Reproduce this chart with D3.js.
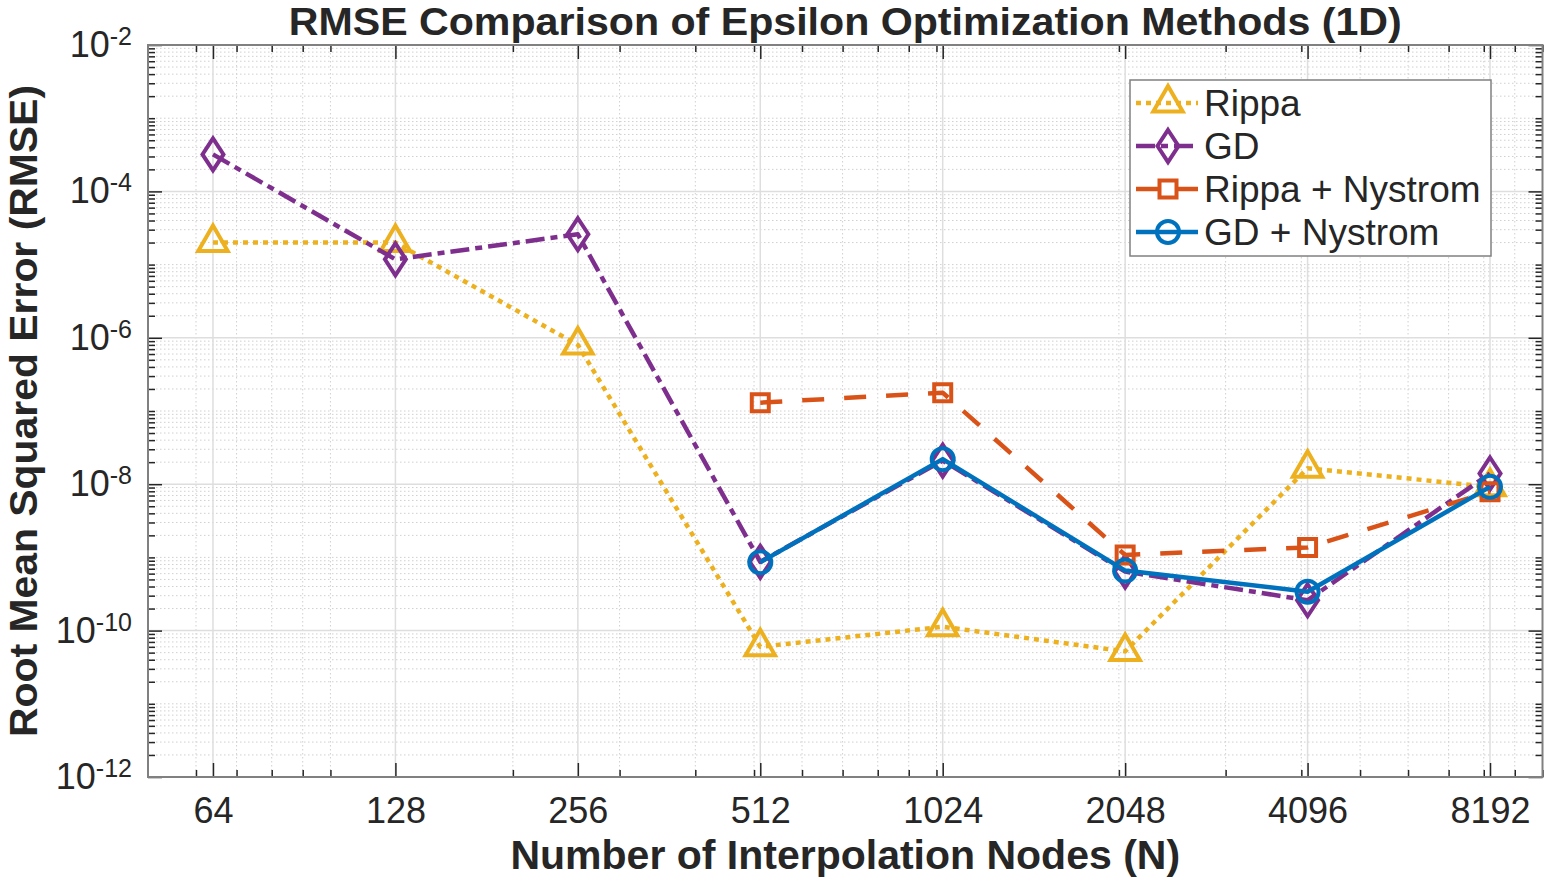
<!DOCTYPE html>
<html><head><meta charset="utf-8">
<script src="https://cdn.jsdelivr.net/npm/d3@7"></script>
<style>
html,body{margin:0;padding:0;background:#fff;}
svg{display:block;font-family:"Liberation Sans",Arial,Helvetica,sans-serif;}
</style></head>
<body>
<svg id="chart" width="1546" height="880"></svg>
<script>
// ---- data ----
const nodes = [64, 128, 256, 512, 1024, 2048, 4096, 8192];
const xTickLabels = ["64", "128", "256", "512", "1024", "2048", "4096", "8192"];
const rippa    = [2.0e-5, 2.0e-5, 8.0e-7, 6.0e-11, 1.13e-10, 5.2e-11, 1.65e-8, 9.2e-9];
const gd       = [3.2e-4, 1.18e-5, 2.6e-5, 8.7e-10, 2.1e-8, 6.4e-10, 2.6e-10, 1.4e-8];
const rippaNys = [null, null, null, 1.3e-7, 1.78e-7, 1.08e-9, 1.37e-9, 7.9e-9];
const gdNys    = [null, null, null, 8.6e-10, 2.2e-8, 6.6e-10, 3.4e-10, 9.2e-9];
const yMajorExp = [-12, -10, -8, -6, -4, -2];
const seriesNames = ["Rippa", "GD", "Rippa + Nystrom", "GD + Nystrom"];
const titleText = "RMSE Comparison of Epsilon Optimization Methods (1D)";
const xLabelText = "Number of Interpolation Nodes (N)";
const yLabelText = "Root Mean Squared Error (RMSE)";

// ---- layout ----
const L = 148, R = 1542.5, T = 45, B = 777;
const svg = d3.select("#chart");
const x = d3.scaleLog().base(2).domain([50, 10000]).range([L, R]);
const y = d3.scaleLog().domain([1e-12, 1e-2]).range([B, T]);

// minor values
const xMinor = [];
[10, 100, 1000].forEach(p => { for (let m = 1; m <= 9; m++) { const v = m * p; if (v > 50 && v < 10000) xMinor.push(v); } });
xMinor.push(10000);
const yMinor = [];
for (let k = -12; k < -2; k++) {
  for (let m = 1; m <= 9; m++) {
    if (m === 1 && k % 2 === 0) continue;
    yMinor.push(m * Math.pow(10, k));
  }
}
const yMajor = yMajorExp.map(e => Math.pow(10, e));

const g = svg.append("g");
// minor grid
g.selectAll(".xmg").data(xMinor).enter().append("line")
  .attr("x1", d => x(d)).attr("x2", d => x(d)).attr("y1", T).attr("y2", B)
  .attr("stroke", "#d0d0d0").attr("stroke-width", 1).attr("stroke-dasharray", "1.5,2.5");
g.selectAll(".ymg").data(yMinor).enter().append("line")
  .attr("x1", L).attr("x2", R).attr("y1", d => y(d)).attr("y2", d => y(d))
  .attr("stroke", "#d0d0d0").attr("stroke-width", 1).attr("stroke-dasharray", "1.5,2.5");
// major grid
g.selectAll(".xg").data(nodes).enter().append("line")
  .attr("x1", d => x(d)).attr("x2", d => x(d)).attr("y1", T).attr("y2", B)
  .attr("stroke", "#dedede").attr("stroke-width", 1.5);
g.selectAll(".yg").data(yMajor).enter().append("line")
  .attr("x1", L).attr("x2", R).attr("y1", d => y(d)).attr("y2", d => y(d))
  .attr("stroke", "#dedede").attr("stroke-width", 1.5);

// axes with d3 axis (ticks inward)
const tickCol = "#262626";
function styleAxis(sel) {
  sel.select(".domain").remove();
  sel.selectAll(".tick line").attr("stroke", tickCol).attr("stroke-width", 1.5);
}
const axB = d3.axisBottom(x).tickValues(nodes).tickSize(-14).tickFormat((d, i) => xTickLabels[i]).tickPadding(24);
const gB = svg.append("g").attr("transform", `translate(0,${B})`).call(axB);
styleAxis(gB);
gB.selectAll(".tick text").attr("font-size", 36).attr("fill", tickCol).attr("font-family", "Liberation Sans, Arial, sans-serif").attr("dy", "0.71em").attr("y", 20);
const gBm = svg.append("g").attr("transform", `translate(0,${B})`).call(d3.axisBottom(x).tickValues(xMinor).tickSize(-7).tickFormat(""));
styleAxis(gBm);
const gT = svg.append("g").attr("transform", `translate(0,${T})`).call(d3.axisTop(x).tickValues(nodes).tickSize(-14).tickFormat(""));
styleAxis(gT);
const gTm = svg.append("g").attr("transform", `translate(0,${T})`).call(d3.axisTop(x).tickValues(xMinor).tickSize(-7).tickFormat(""));
styleAxis(gTm);

const axL = d3.axisLeft(y).tickValues(yMajor).tickSize(-14).tickFormat("");
const gL = svg.append("g").attr("transform", `translate(${L},0)`).call(axL);
styleAxis(gL);
const gLm = svg.append("g").attr("transform", `translate(${L},0)`).call(d3.axisLeft(y).tickValues(yMinor).tickSize(-7).tickFormat(""));
styleAxis(gLm);
const gR = svg.append("g").attr("transform", `translate(${R},0)`).call(d3.axisRight(y).tickValues(yMajor).tickSize(-14).tickFormat(""));
styleAxis(gR);
const gRm = svg.append("g").attr("transform", `translate(${R},0)`).call(d3.axisRight(y).tickValues(yMinor).tickSize(-7).tickFormat(""));
styleAxis(gRm);

// y tick labels with superscripts
yMajorExp.forEach(e => {
  const t = svg.append("text").attr("x", 132).attr("y", y(Math.pow(10, e)) + 12)
    .attr("text-anchor", "end").attr("fill", tickCol).attr("font-size", 36);
  t.append("tspan").text("10");
  t.append("tspan").attr("dy", -12).attr("font-size", 25).text(String(e));
});

// box
svg.append("rect").attr("x", L).attr("y", T).attr("width", R - L).attr("height", B - T)
  .attr("fill", "none").attr("stroke", "#808080").attr("stroke-width", 2);

// ---- series ----
const styles = [
  {data: rippa, color: "#EDB120", dash: "5,5", marker: "tri"},
  {data: gd, color: "#7E2F8E", dash: "19,6,7,6", marker: "dia"},
  {data: rippaNys, color: "#D95319", dash: "22,20", marker: "sq"},
  {data: gdNys, color: "#0072BD", dash: null, marker: "circ"}
];
function markerPath(type) {
  if (type === "tri") { const r = 17; return `M0,${-r}L${0.866*r},${0.5*r}L${-0.866*r},${0.5*r}Z`; }
  if (type === "dia") { return "M0,-16L10.5,0L0,16L-10.5,0Z"; }
  if (type === "sq") { return "M-8.5,-8.5H8.5V8.5H-8.5Z"; }
  return d3.arc()({innerRadius: 0, outerRadius: 11, startAngle: 0, endAngle: 2 * Math.PI});
}
const line = d3.line().defined(d => d.v != null).x(d => x(d.n)).y(d => y(d.v));
styles.forEach(s => {
  const pts = nodes.map((n, i) => ({n, v: s.data[i]}));
  const p = svg.append("path").datum(pts).attr("d", line).attr("fill", "none")
    .attr("stroke", s.color).attr("stroke-width", 4.5).attr("stroke-linejoin", "round");
  if (s.dash) p.attr("stroke-dasharray", s.dash);
  svg.selectAll(null).data(pts.filter(d => d.v != null)).enter().append("path")
    .attr("d", markerPath(s.marker))
    .attr("transform", d => `translate(${x(d.n)},${y(d.v)})`)
    .attr("fill", "none").attr("stroke", s.color).attr("stroke-width", 4);
});

// ---- legend ----
const lg = svg.append("g");
lg.append("rect").attr("x", 1130).attr("y", 80).attr("width", 361).attr("height", 176)
  .attr("fill", "#fff").attr("stroke", "#808080").attr("stroke-width", 1.5);
styles.forEach((s, i) => {
  const cy = 103 + i * 43;
  const l = lg.append("line").attr("x1", 1136).attr("x2", 1198).attr("y1", cy).attr("y2", cy)
    .attr("stroke", s.color).attr("stroke-width", 4.5);
  if (s.dash) l.attr("stroke-dasharray", s.dash);
  lg.append("path").attr("d", markerPath(s.marker)).attr("transform", `translate(1168,${cy})`)
    .attr("fill", "none").attr("stroke", s.color).attr("stroke-width", 4);
  lg.append("text").attr("x", 1204).attr("y", cy + 13).attr("font-size", 37).attr("fill", tickCol).text(seriesNames[i]);
});

// ---- titles ----
svg.append("text").attr("x", (L + R) / 2).attr("y", 35).attr("text-anchor", "middle")
  .attr("font-size", 38).attr("font-weight", "bold").attr("fill", tickCol)
  .attr("textLength", 1113).attr("lengthAdjust", "spacingAndGlyphs").text(titleText);
svg.append("text").attr("x", (L + R) / 2).attr("y", 869).attr("text-anchor", "middle")
  .attr("font-size", 41).attr("font-weight", "bold").attr("fill", tickCol).text(xLabelText);
svg.append("text").attr("transform", `translate(37,${(T + B) / 2}) rotate(-90)`).attr("text-anchor", "middle")
  .attr("font-size", 39).attr("font-weight", "bold").attr("fill", tickCol)
  .attr("textLength", 652).attr("lengthAdjust", "spacingAndGlyphs").text(yLabelText);
</script>
</body></html>
